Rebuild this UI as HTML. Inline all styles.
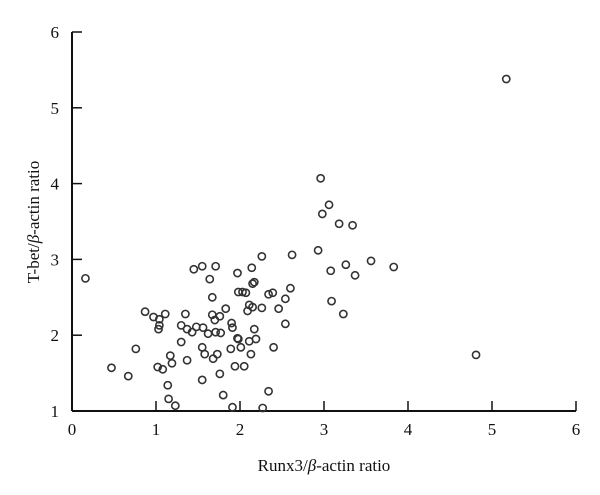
<!DOCTYPE html>
<html><head><meta charset="utf-8"><style>
body{margin:0;background:#fff}
svg text{font-family:"Liberation Serif",serif;fill:#111}
</style></head><body>
<svg id="chart" width="600" height="490" xmlns="http://www.w3.org/2000/svg">
<g id="axes"></g><g id="pts"></g>
<text x="324" y="471" font-size="17" text-anchor="middle">Runx3/<tspan font-style="italic">β</tspan>-actin ratio</text>
<text transform="translate(39,222) rotate(-90)" font-size="17" text-anchor="middle">T-bet/<tspan font-style="italic">β</tspan>-actin ratio</text>
</svg>
<script>
const xTicks=[0,1,2,3,4,5,6];
const yTicks=[1,2,3,4,5,6];
const xs=[0.16,0.47,0.67,0.76,0.87,0.97,1.04,1.11,1.04,1.03,1.02,1.08,1.17,1.19,1.14,1.15,1.23,1.35,1.30,1.37,1.43,1.48,1.30,1.37,1.45,1.55,1.71,1.64,1.67,1.55,1.58,1.68,1.73,1.56,1.62,1.71,1.77,1.67,1.70,1.76,1.83,1.55,1.76,1.80,1.91,1.90,1.91,1.89,1.94,1.97,1.97,1.98,2.26,2.62,2.93,2.14,2.15,2.17,2.03,2.07,2.34,2.39,2.60,2.54,2.46,2.54,2.40,2.11,2.15,2.09,2.26,2.17,1.98,2.11,2.19,2.01,2.13,2.05,2.34,2.27,2.96,2.98,3.06,3.18,3.34,3.08,3.26,3.37,3.56,3.83,3.09,3.23,4.81,5.17];
const ys=[2.75,1.57,1.46,1.82,2.31,2.24,2.21,2.28,2.13,2.08,1.58,1.55,1.73,1.63,1.34,1.16,1.07,2.28,2.13,2.08,2.04,2.11,1.91,1.67,2.87,2.91,2.91,2.74,2.50,1.84,1.75,1.69,1.75,2.10,2.02,2.04,2.03,2.27,2.20,2.25,2.35,1.41,1.49,1.21,1.05,2.16,2.10,1.82,1.59,1.96,2.82,2.57,3.04,3.06,3.12,2.89,2.68,2.70,2.57,2.56,2.54,2.56,2.62,2.48,2.35,2.15,1.84,2.40,2.37,2.32,2.36,2.08,1.95,1.92,1.95,1.84,1.75,1.59,1.26,1.04,4.07,3.60,3.72,3.47,3.45,2.85,2.93,2.79,2.98,2.90,2.45,2.28,1.74,5.38];
const X0=72,X1=576,Y0=411,Y1=32;
const sx=v=>X0+(v-0)/6*(X1-X0);
const sy=v=>Y0-(v-1)/5*(Y0-Y1);
const NS="http://www.w3.org/2000/svg";
const ax=document.getElementById('axes');
function mk(t,a,p){const e=document.createElementNS(NS,t);for(const k in a)e.setAttribute(k,a[k]);p.appendChild(e);return e;}
const yl=mk('line',{x1:X0,y1:Y1,x2:X0,y2:Y0,stroke:'#111','stroke-width':2},ax);


const xl=mk('line',{x1:X0,y1:Y0,x2:X1,y2:Y0,stroke:'#111','stroke-width':2},ax);


xTicks.forEach(v=>{
 const t=mk('line',{x1:sx(v),y1:Y0,x2:sx(v),y2:Y0-10,stroke:'#111','stroke-width':1.5},ax);
 
 
 const l=mk('text',{x:sx(v),y:Y0+24,'font-size':17,'text-anchor':'middle'},ax);l.textContent=v;
 
 
});
yTicks.forEach(v=>{
 const t=mk('line',{x1:X0,y1:sy(v),x2:X0+10,y2:sy(v),stroke:'#111','stroke-width':1.5},ax);
 
 
 const l=mk('text',{x:X0-13,y:sy(v)+6,'font-size':17,'text-anchor':'end'},ax);l.textContent=v;
 
 
});
const pg=document.getElementById('pts');
xs.forEach((x,i)=>{
 const c=mk('circle',{cx:sx(x),cy:sy(ys[i]),r:3.6,fill:'none',stroke:'#333','stroke-width':1.6},pg);
 
 
});
</script>
</body></html>
